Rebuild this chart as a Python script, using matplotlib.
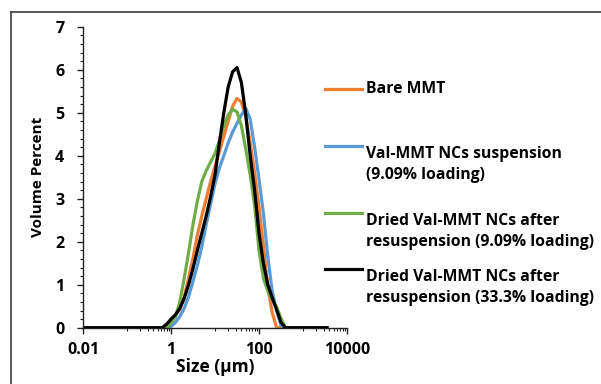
import matplotlib
matplotlib.use("Agg")
import matplotlib.pyplot as plt
from matplotlib.lines import Line2D
from matplotlib.ticker import FixedLocator, NullFormatter

plt.rcParams['font.family'] = ['Open Sans', 'DejaVu Sans']
plt.rcParams['font.weight'] = 'bold'

# particle size (µm)
size_um = [0.01, 0.631, 0.794, 1.0, 1.259, 1.585, 1.995, 2.512, 3.162, 3.981,
           5.012, 6.31, 7.943, 10.0, 12.59, 15.85, 19.95, 25.12, 31.62, 39.81,
           50.12, 63.1, 79.43, 100.0, 125.9, 158.5, 199.5, 251.2, 316.2, 398.1,
           501.2, 3500.0]

bare_mmt = [0, 0, 0, 0.12, 0.3, 0.42, 0.72, 1.15, 1.62, 2.15,
            2.6, 3.0, 3.4, 3.75, 4.1, 4.45, 4.8, 5.15, 5.33, 5.25,
            4.9, 4.3, 3.6, 2.8, 1.9, 0.95, 0.35, 0, 0, 0,
            0, 0]

val_susp = [0, 0, 0, 0.03, 0.12, 0.26, 0.45, 0.72, 1.08, 1.45,
            1.88, 2.4, 2.88, 3.35, 3.72, 4.0, 4.3, 4.55, 4.75, 4.95,
            5.1, 4.85, 4.2, 3.45, 2.66, 1.65, 0.85, 0.4, 0.05, 0,
            0, 0]

dried_909 = [0, 0, 0, 0.12, 0.25, 0.6, 1.15, 1.75, 2.4, 2.95,
             3.4, 3.65, 3.85, 4.05, 4.35, 4.7, 4.95, 5.08, 5.02, 4.7,
             4.15, 3.55, 2.85, 1.8, 1.15, 0.85, 0.65, 0.48, 0.22, 0,
             0, 0]

dried_333 = [0, 0, 0.08, 0.2, 0.3, 0.45, 0.68, 1.0, 1.38, 1.8,
             2.2, 2.6, 3.05, 3.55, 4.3, 5.0, 5.6, 5.95, 6.05, 5.7,
             4.95, 4.0, 3.2, 2.2, 1.5, 1.0, 0.7, 0.42, 0.12, 0,
             0, 0]

series = [bare_mmt, val_susp, dried_909, dried_333]
colors = ['#ED7D31', '#5B9BD5', '#70AD47', '#000000']
legend_lines = [["Bare MMT"],
                ["Val-MMT NCs suspension", "(9.09% loading)"],
                ["Dried Val-MMT NCs after", "resuspension (9.09% loading)"],
                ["Dried Val-MMT NCs after", "resuspension (33.3% loading)"]]

x_major = [0.01, 1, 100, 10000]
x_labels = ["0.01", "1", "100", "10000"]
y_major = [0, 1, 2, 3, 4, 5, 6, 7]

W, H = 601, 384
fig = plt.figure(figsize=(W / 100, H / 100), dpi=100)
ax = fig.add_axes([83 / W, 1 - 327.7 / H, (347 - 83) / W, (327.7 - 26.7) / H])

for vals, c in zip(series, colors):
    ax.plot(size_um, vals, color=c, lw=2.3, solid_joinstyle='round')

ax.set_xscale('log')
ax.set_xlim(0.01, 10000)
ax.set_ylim(0, 7)
ax.xaxis.set_major_locator(FixedLocator(x_major))
ax.set_xticklabels(x_labels)
minor = []
for base in [0.01, 1, 100]:
    for k in range(1, 10):
        minor.append(base * 10 * k)
ax.xaxis.set_minor_locator(FixedLocator(minor))
ax.xaxis.set_minor_formatter(NullFormatter())
ax.yaxis.set_major_locator(FixedLocator(y_major))
ax.yaxis.set_minor_locator(FixedLocator([i * 0.2 for i in range(36)]))

for s in ['top', 'right']:
    ax.spines[s].set_visible(False)
for s in ['left', 'bottom']:
    ax.spines[s].set_linewidth(1.0)
    ax.spines[s].set_color('#222222')

ax.tick_params(axis='both', which='major', direction='out', length=4.5, width=1.0,
               color='#222222', labelsize=11.5)
ax.tick_params(axis='both', which='minor', direction='out', length=2.5, width=0.8,
               color='#222222')
ax.tick_params(axis='x', which='major', pad=6)
ax.tick_params(axis='y', which='major', pad=9)
for lab in ax.get_xticklabels() + ax.get_yticklabels():
    lab.set_fontweight('bold')

ax.set_xlabel("Size (µm)", fontsize=12.5, fontweight='bold', labelpad=0)
ax.set_ylabel("Volume Percent", fontsize=11, fontweight='bold', labelpad=7)

# legend (manual, to reproduce Excel layout)
line_y = [89.3, 146, 212.7, 269.3]
text_y = [[89.3], [154.3, 175], [221, 241.7], [277.3, 298.3]]
for c, ly, labs, tys in zip(colors, line_y, legend_lines, text_y):
    fig.add_artist(Line2D([325 / W, 362 / W], [1 - ly / H, 1 - ly / H],
                          color=c, lw=2.3, transform=fig.transFigure))
    for lab, ty in zip(labs, tys):
        fig.text(366 / W, 1 - ty / H, lab, fontsize=11.3, fontweight='bold',
                 ha='left', va='center')

# frame edges visible in the reference (top and left)
fig.add_artist(Line2D([11 / W, 1.0], [1 - 12 / H, 1 - 12 / H], color='#4a4a4a',
                      lw=1.3, transform=fig.transFigure))
fig.add_artist(Line2D([11 / W, 11 / W], [0, 1 - 12 / H], color='#4a4a4a',
                      lw=1.3, transform=fig.transFigure))

fig.savefig("out.png", dpi=100)
